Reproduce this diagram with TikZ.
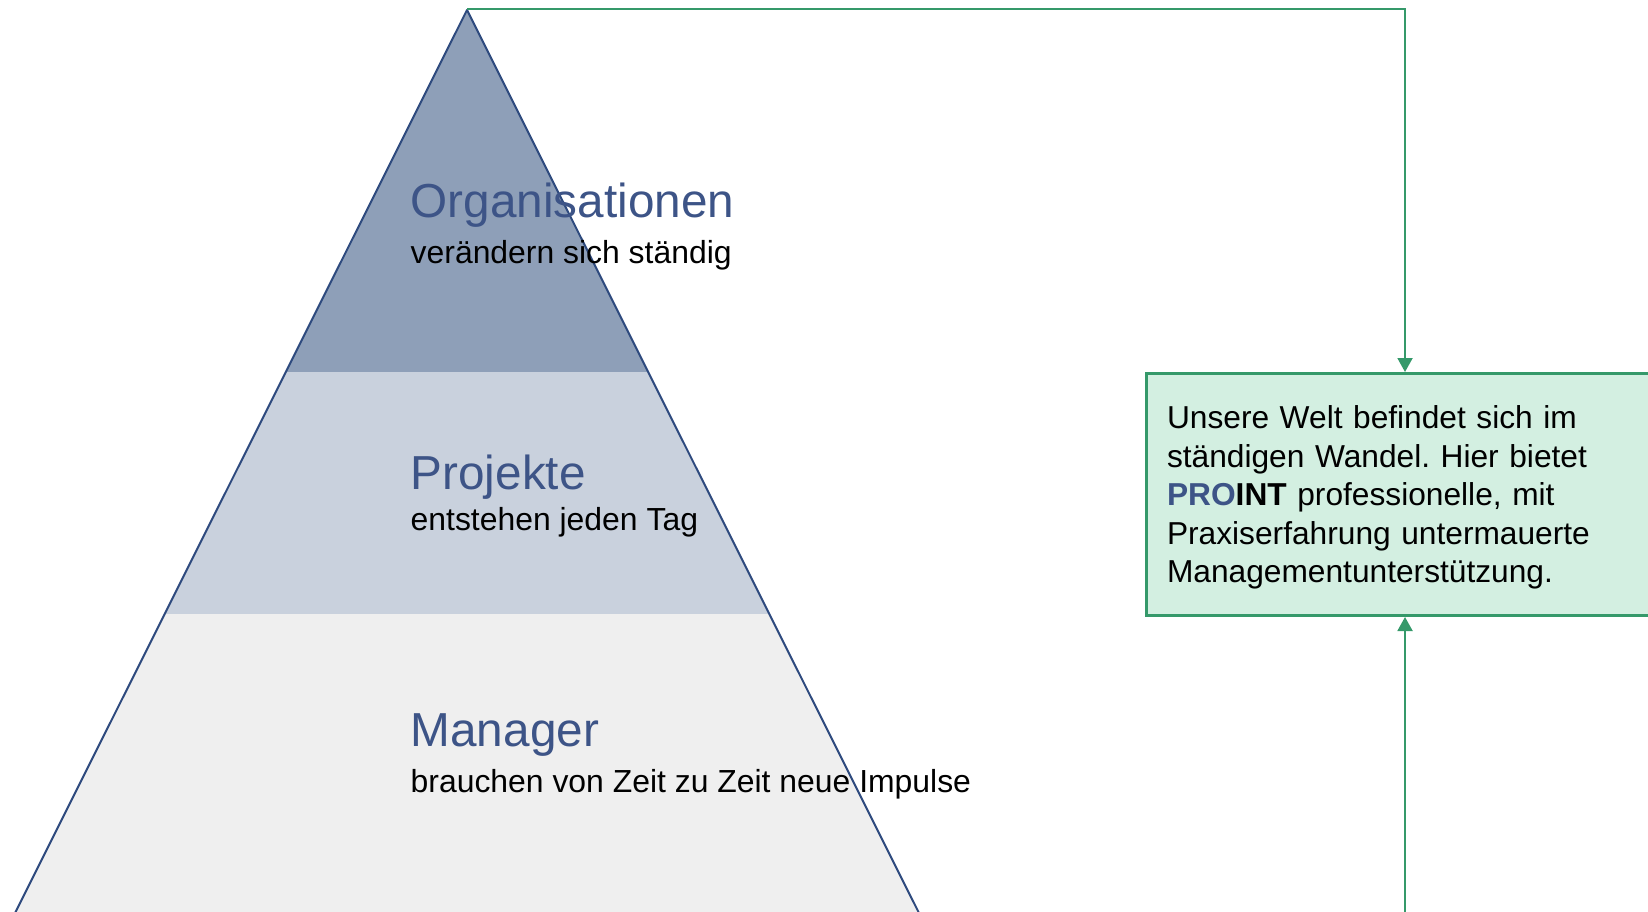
\documentclass[tikz,border=0pt]{standalone}
\usepackage{fontspec}
\setmainfont{Liberation Sans}
\usepackage{xcolor}
\usepackage{tikz}
\usetikzlibrary{positioning,arrows.meta}
\frenchspacing

\definecolor{pyrline}{HTML}{2E4A7E}
\definecolor{headblue}{HTML}{3D5487}
\definecolor{bandtop}{HTML}{8E9FB8}
\definecolor{bandmid}{HTML}{C9D1DD}
\definecolor{bandlow}{HTML}{EFEFEF}
\definecolor{proGreen}{HTML}{35996A}
\definecolor{proFill}{HTML}{D3EFE1}

\tikzset{
  head/.style={anchor=base west, inner sep=0pt, text=headblue, font=\fontsize{47.7}{56}\selectfont},
  sub/.style={anchor=base west, inner sep=0pt, text=black, font=\fontsize{31.9}{38}\selectfont},
  flow/.style={draw=proGreen, line width=2pt, -{Triangle[width=15pt,length=14pt]}},
}

\begin{document}
\begin{tikzpicture}[x=1pt, y=-1pt]
  \useasboundingbox (0,0) rectangle (1648,912);
  \clip (0,0) rectangle (1648,912);

  % pyramid bands
  \fill[bandtop] (467,10) -- (648.5,372) -- (285.5,372) -- cycle;
  \fill[bandmid] (285.5,372) -- (648.5,372) -- (769.5,614) -- (164.5,614) -- cycle;
  \fill[bandlow] (164.5,614) -- (769.5,614) -- (927.5,930) -- (6.5,930) -- cycle;
  \draw[pyrline, line width=2pt, line join=round] (467,10) -- (927.5,930) -- (6.5,930) -- cycle;

  \node[head] (org) at (410.5,217) {Organisationen};
  \node[sub] (orgsub) at (410.5,263) {verändern sich ständig};
  \node[head] (proj) at (410.5,489) {Projekte};
  \node[sub] (projsub) at (410.5,530) {entstehen jeden Tag};
  \node[head] (man) at (410.5,746) {Manager};
  \node[sub] (mansub) at (410.5,792) {brauchen von Zeit zu Zeit neue Impulse};

  \node[draw=proGreen, fill=proFill, line width=3pt, anchor=north west, minimum width=517pt, minimum height=242pt,
        text width=476pt, inner xsep=20.5pt, align=left, font=\fontsize{31.7}{38.6}\selectfont] (welt) at (1145,372)
        {\rule{0pt}{29pt}Unsere Welt befindet sich im\\ständigen Wandel. Hier bietet\\\textbf{\textcolor{headblue}{PRO}INT} professionelle, mit\\Praxiserfahrung untermauerte\\Managementunterstützung.};

  \coordinate (spitze) at (467,9);
  \coordinate (knick) at (1405,9);
  \coordinate (unten) at (1405,930);

  \draw[flow] (spitze) -- (knick) -- (welt.north);
  \draw[flow] (unten) -- (welt.south);
\end{tikzpicture}
\end{document}
